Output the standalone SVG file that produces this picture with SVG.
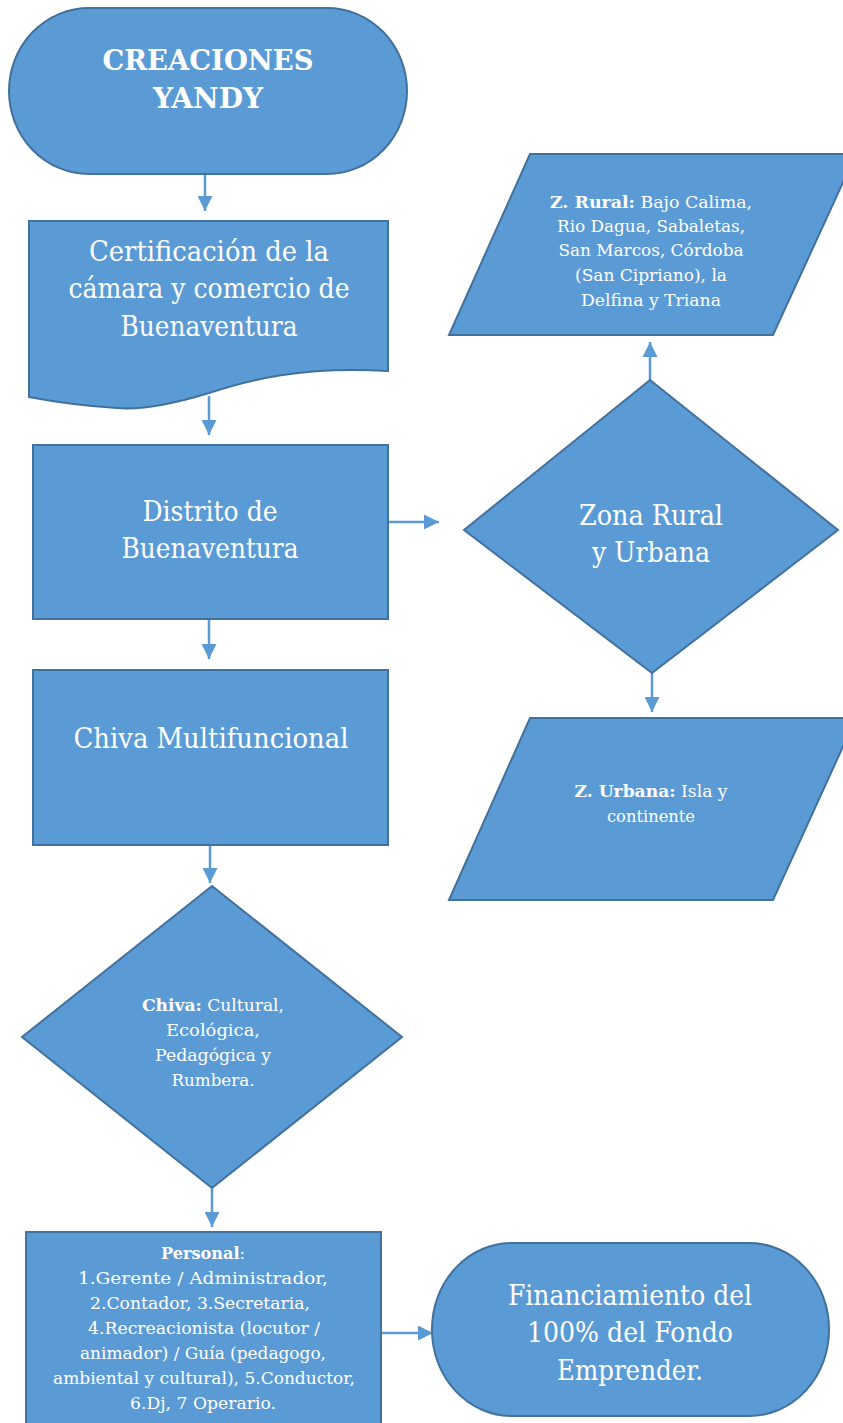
<svg xmlns="http://www.w3.org/2000/svg" width="843" height="1423" viewBox="0 0 843 1423">
<defs>
<marker id="ah" viewBox="0 0 10 10" refX="10" refY="5" markerWidth="6" markerHeight="6" orient="auto" markerUnits="strokeWidth">
<path d="M0,0 L10,5 L0,10 Z" fill="#5b9bd5"/>
</marker>
<style>
.n{fill:#5b9bd5;stroke:#41719c;stroke-width:2}
text{font-family:'DejaVu Serif','Liberation Serif',serif;fill:#ffffff;text-anchor:middle}
.big{font-size:28px}
.sm{font-size:16px}
.b{font-weight:bold}
.c{stroke:#5b9bd5;stroke-width:2.5;fill:none;marker-end:url(#ah)}
</style>
</defs>
<rect width="843" height="1423" fill="#ffffff"/>
<g id="connectors">
<line class="c" x1="205" y1="174" x2="205" y2="211"/>
<line class="c" x1="209" y1="396" x2="209" y2="435"/>
<line class="c" x1="388" y1="522" x2="439" y2="522"/>
<line class="c" x1="650" y1="380" x2="650" y2="342"/>
<line class="c" x1="652" y1="673" x2="652" y2="712"/>
<line class="c" x1="209" y1="619" x2="209" y2="659"/>
<line class="c" x1="210" y1="845" x2="210" y2="883"/>
<line class="c" x1="212" y1="1188" x2="212" y2="1227"/>
<line class="c" x1="381" y1="1333" x2="433" y2="1333"/>
</g>
<g id="n-creaciones">
<rect class="n" x="9" y="8" width="398" height="166" rx="80" ry="83"/>
<text class="big b" x="208" y="70" textLength="211" lengthAdjust="spacingAndGlyphs">CREACIONES</text>
<text class="big b" x="208" y="108" textLength="110" lengthAdjust="spacingAndGlyphs">YANDY</text>
</g>
<g id="n-certificacion">
<path class="n" d="M29,221 H388 V371 C300,366 250,380 209,393 C170,405 140,410 117,408 C85,406 55,402 29,397 Z"/>
<text class="big" x="209" y="261" textLength="240" lengthAdjust="spacingAndGlyphs">Certificación de la</text>
<text class="big" x="209" y="298" textLength="281" lengthAdjust="spacingAndGlyphs">cámara y comercio de</text>
<text class="big" x="209" y="336" textLength="177" lengthAdjust="spacingAndGlyphs">Buenaventura</text>
</g>
<g id="n-distrito">
<rect class="n" x="33" y="445" width="355" height="174"/>
<text class="big" x="210" y="521" textLength="135" lengthAdjust="spacingAndGlyphs">Distrito de</text>
<text class="big" x="210" y="558" textLength="177" lengthAdjust="spacingAndGlyphs">Buenaventura</text>
</g>
<g id="n-zona">
<polygon class="n" points="650,380 838,530 652,673 464,530"/>
<text class="big" x="651" y="525" textLength="144" lengthAdjust="spacingAndGlyphs">Zona Rural</text>
<text class="big" x="651" y="562" textLength="118" lengthAdjust="spacingAndGlyphs">y Urbana</text>
</g>
<g id="n-zrural">
<polygon class="n" points="530,154 856,154 773,335 449,335"/>
<text class="sm" x="651" y="208" textLength="202" lengthAdjust="spacingAndGlyphs"><tspan class="b">Z. Rural:</tspan> Bajo Calima,</text>
<text class="sm" x="651" y="232" textLength="188" lengthAdjust="spacingAndGlyphs">Rio Dagua, Sabaletas,</text>
<text class="sm" x="651" y="256" textLength="185" lengthAdjust="spacingAndGlyphs">San Marcos, Córdoba</text>
<text class="sm" x="651" y="281" textLength="152" lengthAdjust="spacingAndGlyphs">(San Cipriano), la</text>
<text class="sm" x="651" y="306" textLength="140" lengthAdjust="spacingAndGlyphs">Delfina y Triana</text>
</g>
<g id="n-zurbana">
<polygon class="n" points="530,718 856,718 773,900 449,900"/>
<text class="sm" x="651" y="797" textLength="153" lengthAdjust="spacingAndGlyphs"><tspan class="b">Z. Urbana:</tspan> Isla y</text>
<text class="sm" x="651" y="822" textLength="88" lengthAdjust="spacingAndGlyphs">continente</text>
</g>
<g id="n-chiva">
<rect class="n" x="33" y="670" width="355" height="175"/>
<text class="big" x="211" y="748" textLength="275" lengthAdjust="spacingAndGlyphs">Chiva Multifuncional</text>
</g>
<g id="n-tipos">
<polygon class="n" points="212,886 402,1037 212,1188 22,1037"/>
<text class="sm" x="213" y="1011" textLength="142" lengthAdjust="spacingAndGlyphs"><tspan class="b">Chiva:</tspan> Cultural,</text>
<text class="sm" x="213" y="1036" textLength="94" lengthAdjust="spacingAndGlyphs">Ecológica,</text>
<text class="sm" x="213" y="1061" textLength="116" lengthAdjust="spacingAndGlyphs">Pedagógica y</text>
<text class="sm" x="213" y="1086" textLength="83" lengthAdjust="spacingAndGlyphs">Rumbera.</text>
</g>
<g id="n-personal">
<rect class="n" x="26" y="1232" width="355" height="200"/>
<text class="sm" x="203" y="1259" textLength="84" lengthAdjust="spacingAndGlyphs"><tspan class="b">Personal</tspan>:</text>
<text class="sm" x="203" y="1284" textLength="250" lengthAdjust="spacingAndGlyphs">1.Gerente / Administrador,</text>
<text class="sm" x="200" y="1309" textLength="220" lengthAdjust="spacingAndGlyphs">2.Contador, 3.Secretaria,</text>
<text class="sm" x="204" y="1334" textLength="232" lengthAdjust="spacingAndGlyphs">4.Recreacionista (locutor /</text>
<text class="sm" x="203" y="1359" textLength="246" lengthAdjust="spacingAndGlyphs">animador) / Guía (pedagogo,</text>
<text class="sm" x="204" y="1384" textLength="302" lengthAdjust="spacingAndGlyphs">ambiental y cultural), 5.Conductor,</text>
<text class="sm" x="203" y="1409" textLength="146" lengthAdjust="spacingAndGlyphs">6.Dj, 7 Operario.</text>
</g>
<g id="n-financiamiento">
<rect class="n" x="432" y="1243" width="397" height="173" rx="80" ry="86"/>
<text class="big" x="630" y="1305" textLength="244" lengthAdjust="spacingAndGlyphs">Financiamiento del</text>
<text class="big" x="630" y="1342" textLength="206" lengthAdjust="spacingAndGlyphs">100% del Fondo</text>
<text class="big" x="630" y="1380" textLength="146" lengthAdjust="spacingAndGlyphs">Emprender.</text>
</g>
</svg>
